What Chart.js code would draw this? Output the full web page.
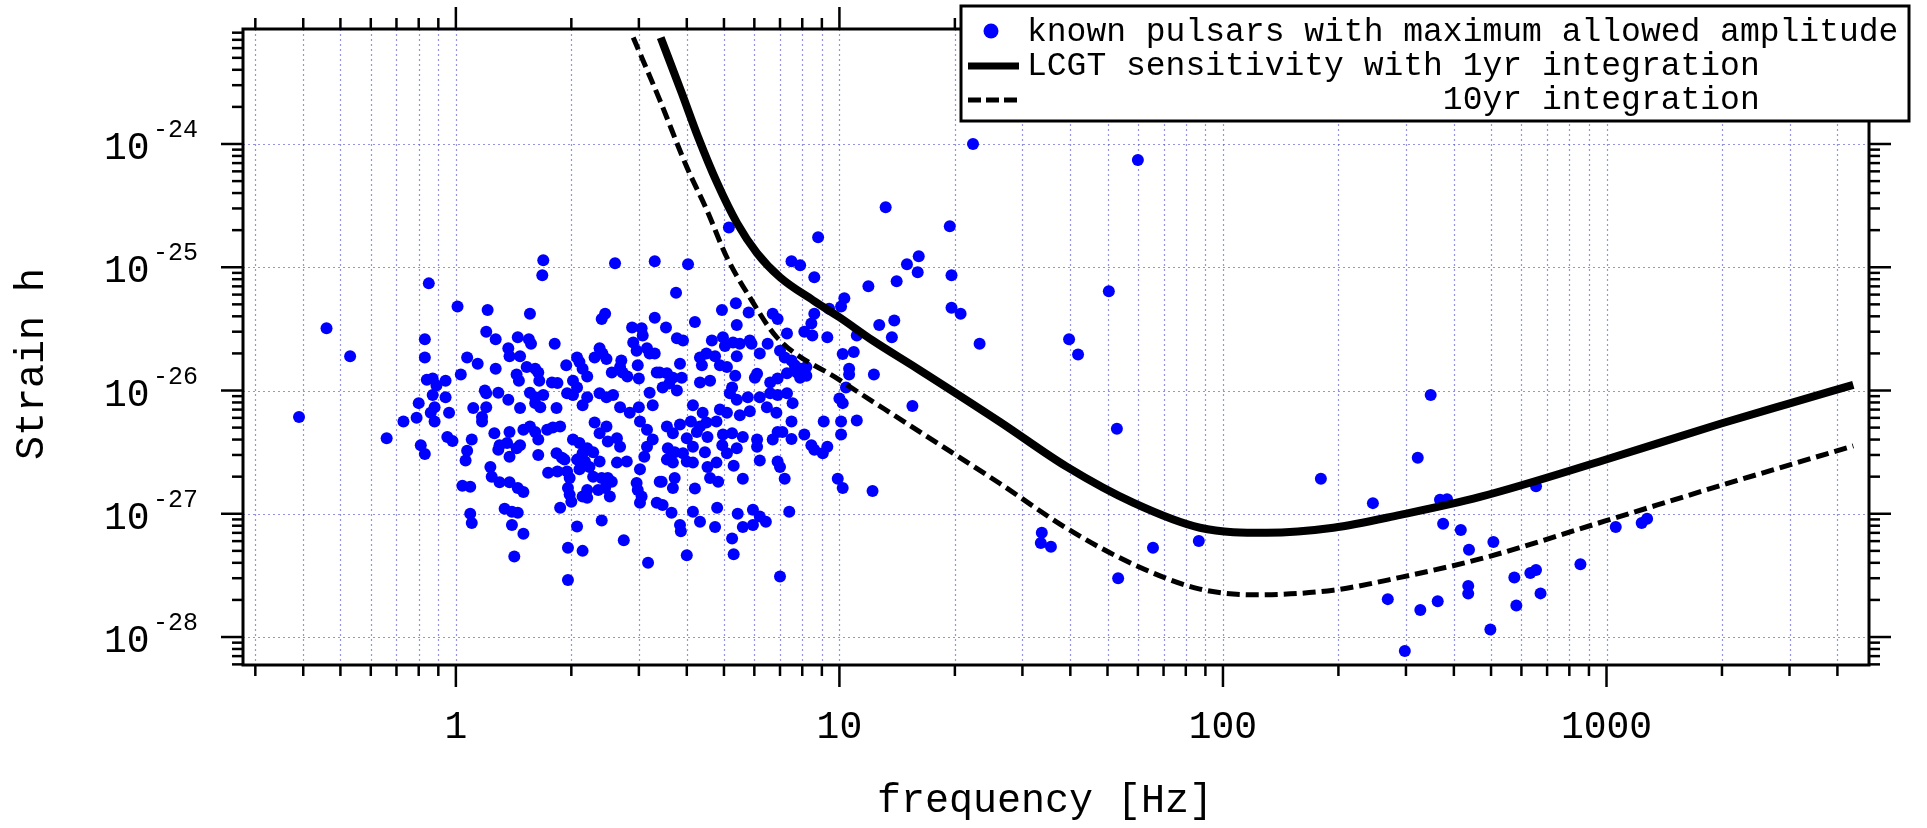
<!DOCTYPE html>
<html lang="en">
<head>
<meta charset="utf-8">
<title>Known pulsars and LCGT sensitivity</title>
<style>
  body { margin: 0; background: #fff; }
  #wrap { width: 1927px; height: 828px; }
</style>
</head>
<body>
<div id="wrap"><canvas id="strainChart" width="1927" height="828"></canvas></div>
<script src="https://cdn.jsdelivr.net/npm/chart.js@4/dist/chart.umd.min.js"></script>
<script>
// axis ranges (Hz / strain)
const xRange = [0.2786, 4835];
const yRange = [5.93e-29, 8.57e-24];

const xTickValues = [1, 10, 100, 1000];
const xTickLabels = ['1', '10', '100', '1000'];
const yTickValues = [1e-28, 1e-27, 1e-26, 1e-25, 1e-24];
const yTickExponents = ['-28', '-27', '-26', '-25', '-24'];

const xTitle = 'frequency [Hz]';
const yTitle = 'Strain h';
const legendLabels = [
  'known pulsars with maximum allowed amplitude',
  'LCGT sensitivity with 1yr integration',
  '                     10yr integration'
];

// LCGT sensitivity curves
const sens1yrFreq = [3.42, 3.88, 4.28, 4.8, 5.41, 6.1, 7.0, 8.53, 10.0, 12.2, 16, 26.2, 39.2, 58.3, 87.1, 130, 194, 290, 468, 988, 1991, 2974, 4400];
const sens1yrStrain = [7.3e-24, 2.6e-24, 1.14e-24, 4.83e-25, 2.28e-25, 1.3e-25, 8.3e-26, 5.4e-26, 3.93e-26, 2.55e-26, 1.5e-26, 5.57e-27, 2.4e-27, 1.23e-27, 7.7e-28, 7.0e-28, 7.7e-28, 9.8e-28, 1.37e-27, 2.73e-27, 5.4e-27, 7.8e-27, 1.11e-26];
const sens10yrFreq = [2.9, 3.4, 4.0, 4.51, 5.09, 5.84, 6.87, 10, 15, 26.2, 39.2, 58.3, 87.1, 122, 194, 290, 468, 988, 1991, 2974, 4400];
const sens10yrStrain = [7.3e-24, 2.28e-24, 6.5e-25, 2.92e-25, 1.2e-25, 5.7e-26, 2.7e-26, 1.22e-26, 5.4e-27, 1.76e-27, 7.6e-28, 3.9e-28, 2.45e-28, 2.2e-28, 2.4e-28, 3.05e-28, 4.3e-28, 8.7e-28, 1.7e-27, 2.47e-27, 3.55e-27];

// known pulsars [frequency, strain]
const pulsars = [
  [0.39, 6.1e-27], [0.46, 3.2e-26], [0.53, 1.9e-26], [0.66, 4.1e-27], [0.73, 5.6e-27], [0.79, 6.0e-27],
  [0.80, 7.9e-27], [0.81, 3.6e-27], [0.84, 1.22e-26],
  [1.69, 1.14e-25], [1.68, 8.6e-26], [2.6, 1.08e-25], [3.3, 1.12e-25], [0.85, 7.4e-26], [1.01, 4.8e-26],
  [1.21, 4.5e-26], [1.56, 4.2e-26], [2.45, 4.2e-26], [2.4, 3.8e-26], [3.3, 3.9e-26], [0.83, 2.6e-26],
  [1.2, 3.0e-26], [1.27, 2.6e-26], [1.45, 2.7e-26], [1.55, 2.6e-26], [1.57, 2.4e-26], [1.81, 2.4e-26],
  [1.37, 2.2e-26], [1.38, 1.9e-26], [1.47, 1.9e-26], [0.83, 1.85e-26], [1.07, 1.85e-26], [1.14, 1.65e-26],
  [1.27, 1.5e-26], [1.03, 1.35e-26], [1.44, 1.35e-26], [1.46, 1.2e-26], [1.53, 1.55e-26], [1.61, 1.5e-26],
  [1.64, 1.4e-26], [1.65, 1.2e-26], [1.78, 1.16e-26], [1.84, 1.15e-26], [1.94, 1.6e-26], [2.07, 1.85e-26],
  [2.1, 1.7e-26], [2.14, 1.5e-26], [2.2, 1.3e-26], [2.02, 1.2e-26], [2.07, 1.06e-26], [2.3, 1.85e-26],
  [2.37, 2.2e-26], [2.41, 2.0e-26], [2.47, 1.8e-26], [2.7, 1.75e-26], [2.68, 1.55e-26], [2.55, 1.4e-26],
  [2.72, 1.4e-26], [2.8, 1.3e-26], [2.88, 3.25e-26], [3.05, 3.2e-26], [3.07, 2.8e-26], [2.9, 2.45e-26],
  [2.96, 2.1e-26], [3.15, 2.2e-26], [3.2, 2.0e-26], [3.3, 2.0e-26], [2.98, 1.6e-26], [3.0, 1.25e-26],
  [3.34, 1.4e-26], [0.87, 1.25e-26], [0.89, 1.1e-26], [0.94, 1.2e-26], [0.87, 9.2e-27], [0.94, 8.8e-27],
  [0.88, 7.3e-27], [0.86, 6.6e-27], [0.96, 6.6e-27], [1.19, 1.0e-26], [1.2, 9.5e-27], [1.29, 9.6e-27],
  [1.37, 8.4e-27], [1.47, 7.2e-27], [1.56, 9.6e-27], [1.61, 8.8e-27], [1.61, 7.9e-27], [1.69, 9.2e-27],
  [1.66, 7.3e-27], [1.11, 7.2e-27], [1.2, 7.3e-27], [1.17, 6.1e-27], [1.83, 7.2e-27], [1.95, 9.5e-27],
  [2.02, 9.2e-27], [2.14, 7.6e-27], [2.2, 8.8e-27], [2.37, 9.5e-27], [2.47, 8.8e-27], [2.57, 9.2e-27],
  [2.68, 7.3e-27], [2.84, 6.6e-27], [3.0, 7.3e-27], [3.2, 9.6e-27], [3.26, 7.6e-27],
  [4.03, 1.06e-25], [7.5, 1.12e-25], [7.9, 1.04e-25], [8.6, 8.3e-26], [11.9, 7.0e-26], [14.1, 7.7e-26],
  [3.75, 6.2e-26], [5.37, 5.1e-26], [4.94, 4.5e-26], [4.2, 3.6e-26], [3.53, 3.25e-26], [5.4, 3.4e-26],
  [5.8, 4.3e-26], [6.7, 4.2e-26], [6.9, 3.8e-26], [7.3, 2.9e-26], [8.1, 3.0e-26], [8.5, 2.8e-26],
  [8.45, 3.5e-26], [8.6, 4.2e-26], [9.3, 2.7e-26], [9.4, 4.6e-26], [10.1, 4.8e-26], [10.3, 5.6e-26],
  [12.7, 3.4e-26], [13.9, 3.7e-26], [13.7, 2.7e-26], [11.1, 2.8e-26], [10.2, 1.98e-26], [10.9, 2.05e-26],
  [10.6, 1.5e-26], [10.6, 1.35e-26], [12.3, 1.35e-26], [10.4, 1.06e-26], [10.0, 8.6e-27], [10.2, 7.9e-27],
  [3.77, 2.65e-26], [3.91, 2.55e-26], [4.65, 2.55e-26], [4.97, 2.7e-26], [5.03, 2.3e-26], [5.28, 2.45e-26],
  [5.5, 2.4e-26], [5.84, 2.55e-26], [5.9, 2.4e-26], [6.2, 2.0e-26], [6.5, 2.4e-26], [7.0, 2.1e-26],
  [7.2, 1.85e-26], [7.5, 1.75e-26], [7.65, 1.6e-26], [7.9, 1.5e-26], [8.2, 1.55e-26], [4.33, 1.85e-26],
  [4.5, 2.0e-26], [4.74, 1.9e-26], [4.88, 1.6e-26], [5.09, 1.55e-26], [4.38, 1.6e-26], [3.84, 1.65e-26],
  [5.4, 1.9e-26], [5.35, 1.32e-26], [6.02, 1.27e-26], [6.1, 1.37e-26], [3.4, 1.4e-26], [3.55, 1.38e-26],
  [3.68, 1.27e-26], [3.88, 1.27e-26], [3.46, 1.06e-26], [3.6, 1.14e-26], [3.77, 1.0e-26], [4.33, 1.16e-26],
  [4.6, 1.2e-26], [5.25, 1.06e-26], [5.18, 9.5e-27], [5.4, 8.4e-27], [5.77, 8.8e-27], [6.2, 8.8e-27],
  [6.6, 9.5e-27], [6.9, 1.25e-26], [7.3, 1.38e-26], [7.75, 1.4e-26], [7.9, 1.27e-26], [8.2, 1.32e-26],
  [6.6, 1.16e-26], [6.9, 9.2e-27], [7.3, 9.5e-27], [7.55, 7.9e-27], [4.15, 7.6e-27], [4.4, 6.6e-27],
  [4.88, 7.0e-27], [5.09, 6.6e-27], [5.5, 6.3e-27], [5.84, 6.8e-27], [6.47, 7.3e-27], [6.85, 6.6e-27],
  [0.88, 5.6e-27], [0.83, 3.05e-27], [0.95, 4.2e-27], [0.98, 3.9e-27], [1.1, 4.0e-27], [1.07, 3.25e-27],
  [1.06, 2.7e-27], [1.04, 1.69e-27], [1.09, 1.66e-27], [1.09, 1.0e-27], [1.1, 8.4e-28], [1.17, 5.6e-27],
  [1.26, 4.5e-27], [1.38, 4.6e-27], [1.3, 3.6e-27], [1.36, 3.75e-27], [1.29, 3.3e-27], [1.38, 2.9e-27],
  [1.23, 2.4e-27], [1.24, 2.0e-27], [1.3, 1.8e-27], [1.38, 1.8e-27], [1.45, 1.62e-27], [1.5, 1.5e-27],
  [1.34, 1.1e-27], [1.4, 1.04e-27], [1.45, 1.02e-27], [1.4, 8.1e-28], [1.5, 6.9e-28], [1.42, 4.5e-28],
  [1.5, 4.8e-27], [1.56, 5.1e-27], [1.61, 4.6e-27], [1.64, 4.0e-27], [1.47, 3.6e-27], [1.44, 3.4e-27],
  [1.64, 3.0e-27], [1.73, 4.8e-27], [1.79, 5.0e-27], [1.87, 5.1e-27], [1.83, 3.1e-27], [1.89, 2.85e-27],
  [1.92, 2.75e-27], [1.74, 2.15e-27], [1.84, 2.2e-27], [1.95, 2.2e-27], [1.98, 1.95e-27], [1.96, 1.62e-27],
  [1.98, 1.43e-27], [2.0, 1.25e-27], [1.87, 1.12e-27], [2.07, 7.9e-28], [1.96, 5.3e-28], [2.14, 5.0e-28],
  [1.96, 2.9e-28], [2.02, 4.0e-27], [2.1, 3.75e-27], [2.2, 3.4e-27], [2.28, 3.15e-27], [2.14, 3.1e-27],
  [2.07, 2.75e-27], [2.17, 2.65e-27], [2.23, 2.4e-27], [2.1, 2.3e-27], [2.14, 1.38e-27], [2.2, 1.56e-27],
  [2.3, 5.5e-27], [2.37, 4.5e-27], [2.47, 5.1e-27], [2.49, 3.85e-27], [2.63, 4.1e-27], [2.68, 3.5e-27],
  [2.63, 2.6e-27], [2.79, 2.65e-27], [2.37, 2.65e-27], [2.28, 2.0e-27], [2.4, 1.95e-27], [2.49, 1.95e-27],
  [2.55, 1.82e-27], [2.45, 1.62e-27], [2.35, 1.56e-27], [2.52, 1.38e-27], [2.2, 1.35e-27], [2.4, 8.8e-28],
  [2.74, 6.1e-28], [3.02, 5.6e-27], [3.15, 4.8e-27], [3.26, 4.0e-27], [3.15, 3.5e-27], [3.1, 2.9e-27],
  [3.02, 2.3e-27], [2.96, 1.78e-27], [2.98, 1.56e-27], [3.02, 1.23e-27], [3.05, 1.38e-27], [3.34, 1.23e-27],
  [3.4, 1.82e-27], [3.17, 4.0e-28],
  [3.55, 5.1e-27], [3.84, 5.3e-27], [4.1, 5.6e-27], [4.33, 5.1e-27], [4.5, 5.5e-27], [4.78, 5.6e-27],
  [3.68, 4.5e-27], [4.0, 4.1e-27], [4.25, 4.6e-27], [4.53, 4.2e-27], [4.97, 4.4e-27], [5.25, 4.5e-27],
  [5.6, 4.2e-27], [3.57, 3.4e-27], [3.72, 3.15e-27], [3.91, 3.1e-27], [4.15, 3.5e-27], [4.46, 3.15e-27],
  [4.95, 3.6e-27], [5.09, 3.1e-27], [5.4, 3.4e-27], [3.55, 2.75e-27], [3.68, 2.6e-27], [4.0, 2.65e-27],
  [4.15, 2.6e-27], [4.53, 2.4e-27], [4.78, 2.6e-27], [3.44, 1.82e-27], [3.72, 1.95e-27], [3.68, 1.62e-27],
  [4.2, 1.6e-27], [4.6, 1.95e-27], [4.83, 1.82e-27], [5.3, 2.45e-27], [5.6, 1.92e-27], [6.1, 4.0e-27],
  [6.1, 3.5e-27], [6.2, 2.7e-27], [6.7, 4.0e-27], [6.9, 4.6e-27], [7.1, 4.6e-27], [7.5, 4.05e-27],
  [6.9, 2.65e-27], [7.0, 2.4e-27], [7.2, 1.92e-27], [8.1, 4.4e-27], [8.45, 3.6e-27], [8.6, 3.3e-27],
  [9.05, 3.1e-27], [9.3, 3.5e-27], [10.1, 4.4e-27], [10.1, 5.6e-27], [9.1, 5.6e-27], [7.5, 5.6e-27],
  [11.1, 5.7e-27], [9.9, 1.92e-27], [10.2, 1.62e-27], [12.2, 1.53e-27], [3.46, 1.18e-27], [3.65, 1.02e-27],
  [4.15, 1.04e-27], [4.33, 8.6e-28], [3.84, 8.1e-28], [3.86, 7.2e-28], [4.8, 1.12e-27], [4.74, 7.8e-28],
  [5.43, 1.0e-27], [5.6, 7.8e-28], [5.95, 1.08e-27], [5.95, 8.1e-28], [6.2, 9.5e-28], [6.43, 8.6e-28],
  [7.4, 1.04e-27], [5.25, 6.3e-28], [5.3, 4.7e-28], [4.0, 4.6e-28], [7.0, 3.1e-28],
  [22.3, 1.0e-24], [13.2, 3.07e-25], [19.4, 2.15e-25], [5.15, 2.1e-25], [8.8, 1.75e-25], [15.0, 1.06e-25],
  [16.1, 1.23e-25], [16.0, 9.1e-26], [19.6, 8.6e-26], [19.6, 4.7e-26], [20.7, 4.2e-26], [23.2, 2.4e-26],
  [15.5, 7.5e-27],
  [60, 7.4e-25], [50.4, 6.4e-26], [39.7, 2.6e-26], [41.9, 1.96e-26], [52.9, 4.9e-27], [348, 9.2e-27],
  [322, 2.85e-27], [180, 1.92e-27], [246, 1.22e-27], [368, 1.3e-27], [384, 1.31e-27], [375, 8.3e-28],
  [417, 7.4e-28], [438, 5.1e-28], [436, 2.6e-28], [436, 2.25e-28], [269, 2.03e-28], [363, 1.95e-28],
  [33.7, 7.0e-28], [33.5, 5.8e-28], [35.6, 5.4e-28], [65.7, 5.3e-28], [86.5, 6.0e-28], [53.3, 3.0e-28],
  [655, 1.67e-27], [507, 5.9e-28], [575, 3.04e-28], [633, 3.3e-28], [655, 3.5e-28], [673, 2.26e-28],
  [582, 1.8e-28], [855, 3.9e-28], [1057, 7.8e-28], [1235, 8.4e-28], [1276, 9.1e-28], [327, 1.66e-28],
  [498, 1.15e-28], [298, 7.7e-29]
];

const FONT = "'Liberation Mono', 'Courier New', monospace";

function toPoints(xs, ys) {
  return xs.map((v, i) => ({ x: v, y: ys[i] }));
}

// every 1..9 x 10^e inside [lo, hi]
function logSteps(lo, hi) {
  const out = [];
  for (let e = Math.floor(Math.log10(lo)); e <= Math.ceil(Math.log10(hi)); e++) {
    for (let m = 1; m <= 9; m++) {
      const v = m * Math.pow(10, e);
      if (v >= lo && v <= hi) out.push({ v: v, major: m === 1 });
    }
  }
  return out;
}

function seg(ctx, x1, y1, x2, y2) {
  ctx.beginPath();
  ctx.moveTo(x1, y1);
  ctx.lineTo(x2, y2);
  ctx.stroke();
}

const framePlugin = {
  id: 'frame',
  beforeDatasetsDraw(chart) {
    const { ctx, chartArea: a, scales: { x, y } } = chart;
    ctx.save();
    ctx.strokeStyle = 'rgba(90,90,210,0.65)';
    ctx.lineWidth = 1.2;
    ctx.setLineDash([2, 3]);
    logSteps(xRange[0], xRange[1]).forEach(t => {
      const px = Math.round(x.getPixelForValue(t.v)) + 0.5;
      seg(ctx, px, a.top, px, a.bottom);
    });
    yTickValues.forEach(v => {
      const py = Math.round(y.getPixelForValue(v)) + 0.5;
      seg(ctx, a.left, py, a.right, py);
    });
    ctx.restore();
  },
  afterDatasetsDraw(chart) {
    const { ctx, chartArea: a, scales: { x, y } } = chart;
    ctx.save();
    ctx.strokeStyle = '#000';
    ctx.lineWidth = 2.5;
    logSteps(xRange[0], xRange[1]).forEach(t => {
      const px = x.getPixelForValue(t.v);
      const len = t.major ? 22 : 11;
      seg(ctx, px, a.bottom, px, a.bottom + len);
      seg(ctx, px, a.top, px, a.top - len);
    });
    logSteps(yRange[0], yRange[1]).forEach(t => {
      const py = y.getPixelForValue(t.v);
      const len = t.major ? 22 : 11;
      seg(ctx, a.left, py, a.left - len, py);
      seg(ctx, a.right, py, a.right + len, py);
    });
    ctx.lineWidth = 3;
    ctx.strokeRect(a.left, a.top, a.right - a.left, a.bottom - a.top);

    ctx.fillStyle = '#000';
    ctx.textBaseline = 'alphabetic';
    ctx.textAlign = 'center';
    ctx.font = '38px ' + FONT;
    xTickValues.forEach((v, i) => {
      ctx.fillText(xTickLabels[i], x.getPixelForValue(v), 738);
    });
    ctx.textAlign = 'left';
    yTickValues.forEach((v, i) => {
      const py = y.getPixelForValue(v);
      ctx.font = '38px ' + FONT;
      ctx.fillText('10', 104, py + 15);
      ctx.font = '25px ' + FONT;
      ctx.fillText(yTickExponents[i], 153, py - 7);
    });

    ctx.font = '40px ' + FONT;
    ctx.textAlign = 'center';
    ctx.fillText(xTitle, 1045, 812);
    ctx.translate(43, 364);
    ctx.rotate(-Math.PI / 2);
    ctx.fillText(yTitle, 0, 0);
    ctx.restore();
  },
  afterDraw(chart) {
    const ctx = chart.ctx;
    ctx.save();
    ctx.fillStyle = '#fff';
    ctx.fillRect(961, 6, 948, 115);
    ctx.strokeStyle = '#000';
    ctx.lineWidth = 3;
    ctx.strokeRect(961, 6, 948, 115);

    ctx.fillStyle = '#0000ff';
    ctx.beginPath();
    ctx.arc(991, 31, 7.5, 0, Math.PI * 2);
    ctx.fill();

    ctx.lineWidth = 7;
    seg(ctx, 968, 66, 1019, 66);
    ctx.lineWidth = 5;
    ctx.setLineDash([13, 5]);
    seg(ctx, 968, 100, 1019, 100);
    ctx.setLineDash([]);

    ctx.fillStyle = '#000';
    ctx.font = '33px ' + FONT;
    ctx.textAlign = 'left';
    ctx.textBaseline = 'alphabetic';
    [41, 75, 109].forEach((by, i) => ctx.fillText(legendLabels[i], 1027, by));
    ctx.restore();
  }
};

const ctx = document.getElementById('strainChart').getContext('2d');
new Chart(ctx, {
  type: 'scatter',
  data: {
    datasets: [
      {
        label: '1yr integration',
        data: toPoints(sens1yrFreq, sens1yrStrain),
        showLine: true,
        borderColor: '#000',
        borderWidth: 8,
        pointRadius: 0,
        cubicInterpolationMode: 'monotone',
        order: 1
      },
      {
        label: '10yr integration',
        data: toPoints(sens10yrFreq, sens10yrStrain),
        showLine: true,
        borderColor: '#000',
        borderWidth: 5,
        borderDash: [13, 6],
        pointRadius: 0,
        cubicInterpolationMode: 'monotone',
        order: 2
      },
      {
        label: 'known pulsars',
        data: pulsars.map(p => ({ x: p[0], y: p[1] })),
        pointRadius: 6,
        pointBackgroundColor: '#0000ff',
        pointBorderWidth: 0,
        order: 3
      }
    ]
  },
  options: {
    responsive: false,
    animation: false,
    devicePixelRatio: 1,
    layout: { padding: { left: 243, right: 58, top: 29, bottom: 163 } },
    plugins: { legend: { display: false }, tooltip: { enabled: false } },
    scales: {
      x: { type: 'logarithmic', min: xRange[0], max: xRange[1], display: false },
      y: { type: 'logarithmic', min: yRange[0], max: yRange[1], display: false }
    }
  },
  plugins: [framePlugin]
});
</script>
</body>
</html>
